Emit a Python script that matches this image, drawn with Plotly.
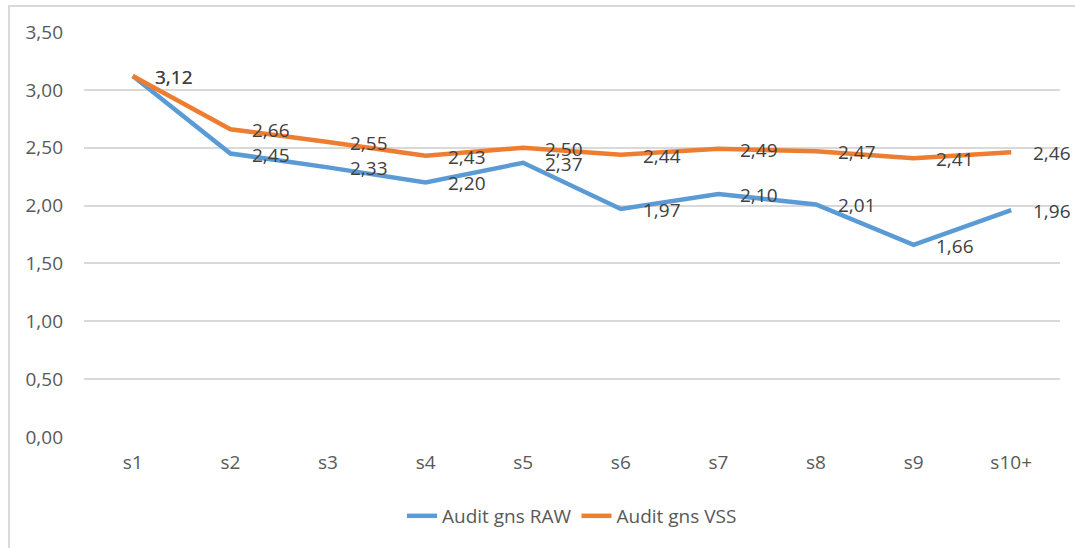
import plotly.graph_objects as go

categories = ["s1", "s2", "s3", "s4", "s5", "s6", "s7", "s8", "s9", "s10+"]
raw_values = [3.12, 2.45, 2.33, 2.20, 2.37, 1.97, 2.10, 2.01, 1.66, 1.96]
vss_values = [3.12, 2.66, 2.55, 2.43, 2.50, 2.44, 2.49, 2.47, 2.41, 2.46]
y_ticks = [0, 0.5, 1.0, 1.5, 2.0, 2.5, 3.0, 3.5]


def fmt(v):
    return f"{v:.2f}".replace(".", ",")


font_family = "Open Sans, Liberation Sans, sans-serif"
text_color = "#404040"
axis_color = "#595959"

fig = go.Figure()
fig.add_trace(go.Scatter(
    x=categories, y=raw_values, name="Audit gns RAW",
    mode="lines", line=dict(color="#5B9BD5", width=4.5),
))
fig.add_trace(go.Scatter(
    x=categories, y=vss_values, name="Audit gns VSS",
    mode="lines", line=dict(color="#ED7D31", width=4.5),
))

# data labels to the right of each point (excel "right" position)
for series in (raw_values, vss_values):
    for cat, v in zip(categories, series):
        fig.add_annotation(x=cat, y=v, text=fmt(v), showarrow=False,
                           xanchor="left", yanchor="middle", xshift=20, yshift=-1,
                           font=dict(size=19, color=text_color, family=font_family))

# chart border like the excel frame
fig.add_shape(type="rect", xref="paper", yref="paper",
              x0=-0.0768, x1=1.05, y0=-0.4, y1=1.0642,
              line=dict(color="#d9d9d9", width=2), fillcolor="rgba(0,0,0,0)")

fig.update_layout(
    width=1075, height=548,
    margin=dict(l=84, r=15, t=32, b=111, autoexpand=False),
    paper_bgcolor="white", plot_bgcolor="white",
    separators=", ",
    font=dict(family=font_family, size=19, color=axis_color),
    showlegend=True,
    legend=dict(orientation="h", x=0.5, xanchor="center", y=-0.195, yanchor="middle",
                font=dict(size=19, color=axis_color)),
    xaxis=dict(range=[-0.5, 9.5], showgrid=False, showline=False, zeroline=False,
               ticklabelstandoff=12, tickfont=dict(size=19, color=axis_color)),
    yaxis=dict(range=[0, 3.5], tickvals=y_ticks, tickformat=".2f",
               showgrid=True, gridcolor="#d9d9d9", gridwidth=1.5,
               zeroline=False, showline=False,
               ticklabelstandoff=20, tickfont=dict(size=19, color=axis_color)),
)

# drop the default body margin so the figure sits at the page corner
fig.write_html("out.html", config={"displayModeBar": False},
               post_script="document.body.style.margin='0';")
